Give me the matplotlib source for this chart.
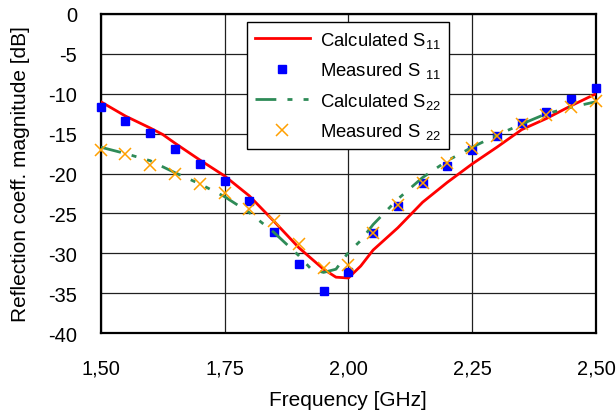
import matplotlib
matplotlib.use("Agg")
import matplotlib.pyplot as plt

plt.rcParams['font.family'] = ['Liberation Sans', 'DejaVu Sans']
plt.rcParams['mathtext.fontset'] = 'custom'
plt.rcParams['mathtext.rm'] = 'Liberation Sans'
plt.rcParams['mathtext.it'] = 'Liberation Sans'
plt.rcParams['mathtext.bf'] = 'Liberation Sans:bold'
plt.rcParams['axes.unicode_minus'] = False
plt.rcParams['lines.scale_dashes'] = False

# Measured points (0.05 GHz steps)
freq_meas = [1.50, 1.55, 1.60, 1.65, 1.70, 1.75, 1.80, 1.85, 1.90, 1.95, 2.00,
             2.05, 2.10, 2.15, 2.20, 2.25, 2.30, 2.35, 2.40, 2.45, 2.50]
s11_meas = [-11.7, -13.4, -14.9, -16.9, -18.8, -21.0, -23.5, -27.3, -31.3, -34.7, -32.4,
            -27.4, -24.1, -21.2, -19.0, -17.1, -15.3, -13.7, -12.3, -10.7, -9.3]
s22_meas = [-17.0, -17.6, -18.9, -20.1, -21.3, -22.5, -24.4, -26.0, -28.9, -31.9, -31.5,
            -27.4, -24.0, -21.2, -18.7, -16.8, -15.3, -13.8, -12.7, -11.6, -10.9]

# Calculated responses
freq_s11_calc = [1.50, 1.55, 1.60, 1.625, 1.65, 1.70, 1.75, 1.80, 1.85, 1.90, 1.95, 1.975,
                 2.00, 2.025, 2.05, 2.10, 2.15, 2.20, 2.25, 2.30, 2.35, 2.40, 2.45, 2.50]
s11_calc = [-11.0, -12.8, -14.3, -15.1, -16.2, -18.3, -20.3, -22.8, -26.0, -29.3, -32.0, -33.0,
            -33.1, -31.6, -29.6, -26.8, -23.6, -21.1, -18.8, -16.7, -14.5, -13.1, -11.5, -10.0]

freq_s22_calc = [1.50, 1.55, 1.60, 1.65, 1.70, 1.75, 1.80, 1.85, 1.90, 1.925, 1.95, 1.975,
                 2.00, 2.025, 2.05, 2.10, 2.15, 2.20, 2.25, 2.30, 2.35, 2.40, 2.45, 2.50]
s22_calc = [-16.7, -17.5, -18.4, -19.9, -21.3, -22.9, -24.9, -27.4, -30.3, -32.0, -32.4, -32.0,
            -29.9, -28.4, -26.4, -23.2, -20.5, -18.4, -16.7, -15.2, -13.8, -12.5, -11.7, -11.0]

x_ticks = [1.50, 1.75, 2.00, 2.25, 2.50]
x_tick_labels = ["1,50", "1,75", "2,00", "2,25", "2,50"]
y_ticks = [0, -5, -10, -15, -20, -25, -30, -35, -40]
y_tick_labels = ["0", "-5", "-10", "-15", "-20", "-25", "-30", "-35", "-40"]

fig = plt.figure(figsize=(6.16, 4.14), dpi=100)
ax = fig.add_axes([0.1635, 0.1932, 0.804, 0.7706])

ax.plot(freq_s11_calc, s11_calc, color='#FF0000', lw=2.0, label='Calculated S$_{11}$', zorder=3)
ax.plot(freq_meas, s11_meas, ls='none', marker='s', ms=6.2, color='#0000FF',
        label='Measured S $_{11}$', zorder=4, clip_on=False)
ax.plot(freq_s22_calc, s22_calc, color='#2E8B57', lw=2.0, dashes=(15, 8, 3.6, 8, 3.6, 8),
        dash_capstyle='butt', label='Calculated S$_{22}$', zorder=5)
ax.plot(freq_meas, s22_meas, ls='none', marker='x', ms=9.0, mew=1.1, color='#FFA000',
        label='Measured S $_{22}$', zorder=6, clip_on=False)

ax.set_xlim(1.5, 2.5)
ax.set_ylim(-40, 0)
ax.set_xticks(x_ticks)
ax.set_xticklabels(x_tick_labels)
ax.set_yticks(y_ticks)
ax.set_yticklabels(y_tick_labels)
ax.tick_params(axis='both', length=0, labelsize=14.4, colors='#000000')
ax.tick_params(axis='x', pad=18)
ax.tick_params(axis='y', pad=17)

ax.grid(True, color='#202020', lw=0.9)
ax.set_axisbelow(True)
for sp in ax.spines.values():
    sp.set_linewidth(1.6)
    sp.set_color('#000000')

ax.set_xlabel('Frequency [GHz]', fontsize=15)
ax.set_ylabel('Reflection coeff. magnitude [dB]', fontsize=15)
ax.xaxis.set_label_coords(0.5, -0.18)
ax.yaxis.set_label_coords(-0.143, 0.5)

leg = ax.legend(loc='upper left', bbox_to_anchor=(0.296, 0.974), borderaxespad=0,
                fontsize=13.3, frameon=True, fancybox=False, framealpha=1,
                edgecolor='#000000', handlelength=3.0, handletextpad=0.55,
                labelspacing=0.57, borderpad=0.4)
leg.get_frame().set_linewidth(1.0)

fig.savefig('out.png', dpi=100)
